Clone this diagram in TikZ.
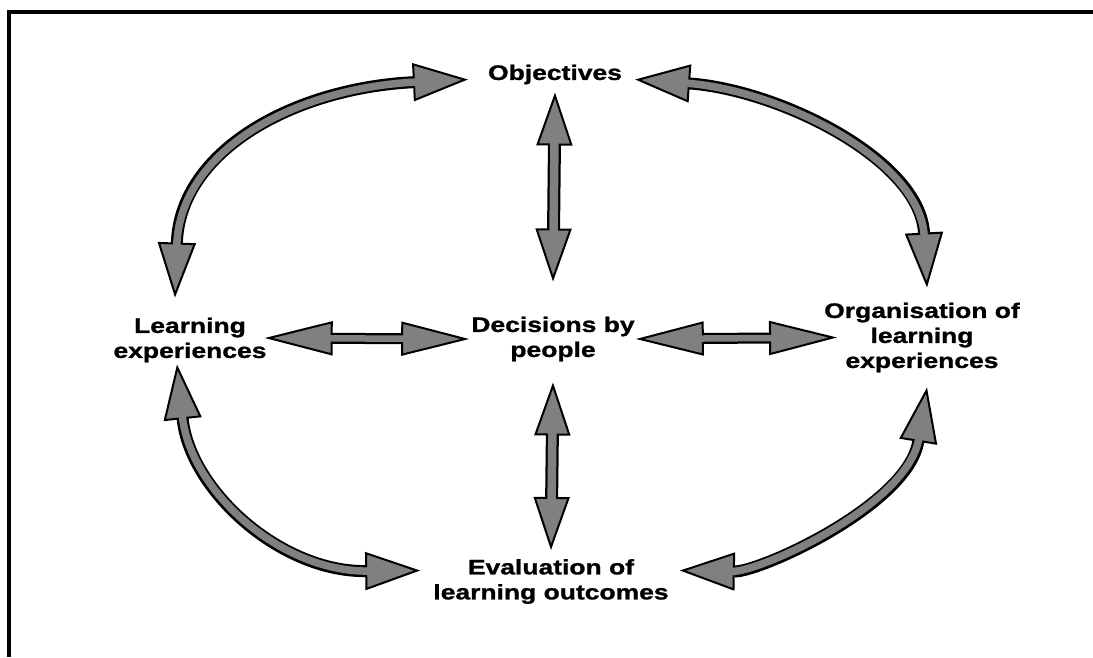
\documentclass[tikz,border=0pt]{standalone}
\usepackage{fontspec}
\newfontfamily\labelfont{Liberation Sans}[FakeStretch=1.26, BoldFeatures={FakeBold=1.2}]
\usetikzlibrary{arrows.meta}
\colorlet{arrgray}{black!50}
\tikzset{
    twoway/.style n args={4}{
        draw=black, line width=#1,
        {Triangle[length=#3, width=#4, fill=arrgray, line width=2pt]}-{Triangle[length=#3, width=#4, fill=arrgray, line width=2pt]},
        postaction={draw=arrgray, line width=#2, arrows=-, shorten <=#3-3pt, shorten >=#3-3pt}
    },
    twoway/.default={13pt}{8.5pt}{53pt}{36pt}
}

\begin{document}
\begin{tikzpicture}[x=1pt, y=-1pt,
    txt/.style={inner sep=0pt, align=center, font=\labelfont\bfseries\fontsize{21}{25}\selectfont}]
    \useasboundingbox (0,0) rectangle (1093,657);
    % frame
    \draw[line width=3.5pt] (1093,12) -- (9,12) -- (9,657);
    % labels
    \node[txt] (obj) at (555,74.5) {Objectives};
    \node[txt] (dec) at (553,339) {Decisions by\\people};
    \node[txt] (learn) at (190,340) {Learning\\experiences};
    \node[txt] (org) at (922,337.5) {Organisation of\\learning\\experiences};
    \node[txt] (eval) at (551,581.5) {Evaluation of\\learning outcomes};
    % straight arrows
    \draw[twoway] ([yshift=-8pt]obj.south) -- ([yshift=35pt]dec.north);
    \draw[twoway] ([yshift=-21pt]dec.south) -- ([yshift=9pt]eval.north);
    \draw[twoway={11pt}{6.5pt}{68pt}{34pt}] ([xshift=-2pt,yshift=2pt]learn.east) -- ([xshift=-2pt]dec.west);
    \draw[twoway={11pt}{6.5pt}{68pt}{34pt}] ([xshift=1pt]dec.east) -- ([xshift=13pt]org.west);
    % curved arrows
    \draw[twoway={12pt}{7.5pt}{55pt}{38pt}] ([xshift=-20pt,yshift=-5pt]obj.west)
        .. controls (295,88) and (180,150) .. ([xshift=-15pt,yshift=20pt]learn.north);
    \draw[twoway={12pt}{7.5pt}{55pt}{38pt}] ([xshift=13pt,yshift=-5pt]obj.east)
        .. controls (780,90) and (920,160) .. ([xshift=5pt,yshift=15pt]org.north);
    \draw[twoway={12pt}{7.5pt}{55pt}{38pt}] ([xshift=-13pt,yshift=-2pt]learn.south)
        .. controls (190,490) and (280,572) .. ([xshift=-13pt,yshift=11pt]eval.west);
    \draw[twoway={12pt}{7.5pt}{55pt}{38pt}] ([xshift=5pt,yshift=-15pt]org.south)
        .. controls (908,505) and (760,572) .. ([xshift=11pt,yshift=11pt]eval.east);
\end{tikzpicture}
\end{document}
